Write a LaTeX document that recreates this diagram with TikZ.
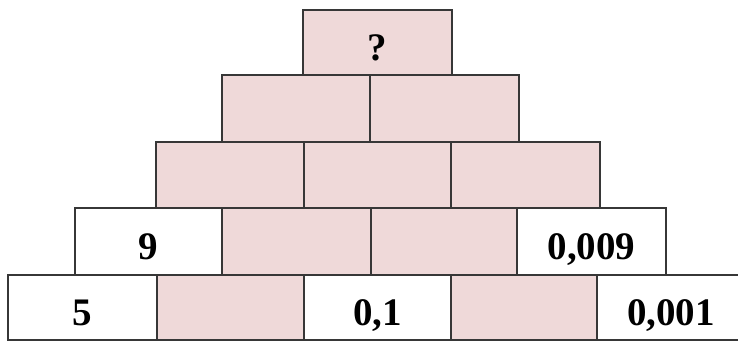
\documentclass[tikz,border=0pt]{standalone}
\usepackage{fontspec}
\setmainfont{Liberation Serif}
\definecolor{brickpink}{RGB}{239,217,217}
\definecolor{brickline}{RGB}{55,55,55}
\tikzset{
  brick/.style={draw=brickline, line width=2pt, inner sep=0pt,
    font=\fontsize{39}{40}\selectfont\bfseries,
    text height=35pt, text depth=0pt, align=center},
}
\newcommand\brickcell[7]{%
  \pgfmathsetmacro\bw{#4-#2}\pgfmathsetmacro\bh{#5-#3}%
  \node[brick, fill=#6, minimum width=\bw pt, minimum height=\bh pt] (#1) at ({(#2+#4)/2},{(#3+#5)/2}) {#7};}
\begin{document}
\begin{tikzpicture}[x=1pt,y=-1pt]
\useasboundingbox (0,0) rectangle (738,341);
% row 1
\brickcell{a1}{303}{10}{452}{75}{brickpink}{?}
% row 2
\brickcell{b1}{222}{75}{370}{142}{brickpink}{}
\brickcell{b2}{370}{75}{519}{142}{brickpink}{}
% row 3
\brickcell{c1}{156}{142}{304}{208}{brickpink}{}
\brickcell{c2}{304}{142}{451}{208}{brickpink}{}
\brickcell{c3}{451}{142}{600}{208}{brickpink}{}
% row 4
\brickcell{d1}{75}{208}{222}{275}{white}{9}
\brickcell{d2}{222}{208}{371}{275}{brickpink}{}
\brickcell{d3}{371}{208}{517}{275}{brickpink}{}
\brickcell{d4}{517}{208}{666}{275}{white}{0,009}
% row 5
\brickcell{e1}{8}{275}{157}{340}{white}{5}
\brickcell{e2}{157}{275}{304}{340}{brickpink}{}
\brickcell{e3}{304}{275}{451}{340}{white}{0,1}
\brickcell{e4}{451}{275}{597}{340}{brickpink}{}
\brickcell{e5}{597}{275}{745}{340}{white}{0,001}
\end{tikzpicture}
\end{document}
